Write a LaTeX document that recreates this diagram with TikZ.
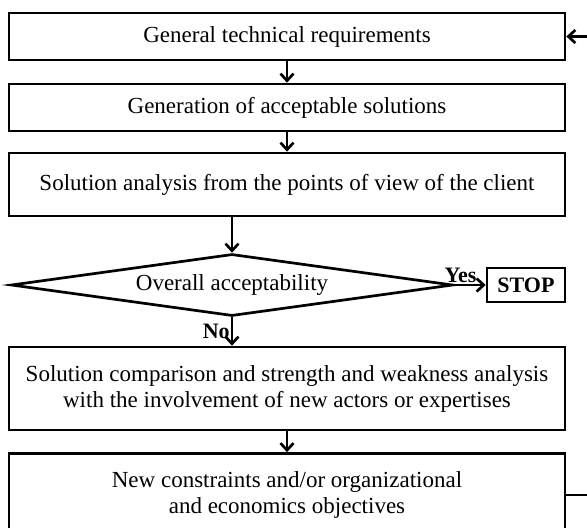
\documentclass[tikz,border=0pt]{standalone}
\usepackage{fontspec}
\setmainfont{Liberation Serif}
\usetikzlibrary{arrows.meta,shapes.geometric}

\tikzset{
  stepbox/.style={draw, line width=2.7pt, minimum width=556pt, inner sep=2pt,
    align=center, font=\fontsize{23}{26}\selectfont},
  test/.style={draw, diamond, aspect=7, line width=2.7pt, inner sep=0pt,
    minimum width=442pt, minimum height=62pt, font=\fontsize{23}{26}\selectfont},
  flow/.style={line width=2.7pt, -{Straight Barb[length=7pt,width=13pt]}},
  answer/.style={font=\fontsize{22}{24}\selectfont\bfseries, inner sep=1pt},
}

\begin{document}
\begin{tikzpicture}[x=1pt, y=-1pt]
  \path[use as bounding box, clip] (0,0) rectangle (587,528);

  \node[stepbox, minimum height=47pt] (req) at (287,36.5) {General technical requirements};
  \node[stepbox, minimum height=47pt] (gen) at (287,107.5) {Generation of acceptable solutions};
  \node[stepbox, minimum height=63pt] (client) at (287,184.5) {Solution analysis from the points of view of the client};
  \node[test] (ok) at (232,285) {Overall acceptability};
  \node[stepbox, minimum width=78pt, minimum height=34pt, font=\fontsize{22}{26}\selectfont\bfseries] (stop) at (526,285) {STOP};
  \node[stepbox, minimum height=83pt] (compare) at (287,388.5) {Solution comparison and strength and weakness analysis\\with the involvement of new actors or expertises};
  \node[stepbox, minimum height=83pt] (constr) at (287,495) {New constraints and/or organizational\\and economics objectives};

  \draw[flow] (req) -- (gen);
  \draw[flow] (gen) -- (client);
  \draw[flow] (client.south -| ok.north) -- (ok.north);
  \draw[flow] (ok.east) -- node[answer, above, pos=0.2] {Yes} (stop);
  \draw[flow] (ok.south) -- node[answer, left] {No} (ok.south |- compare.north);
  \draw[flow] (compare) -- (constr);

  % loop back to the top box, runs outside the frame
  \draw[flow] (constr.east) -- ++(30,0) |- (req.east);
\end{tikzpicture}
\end{document}
